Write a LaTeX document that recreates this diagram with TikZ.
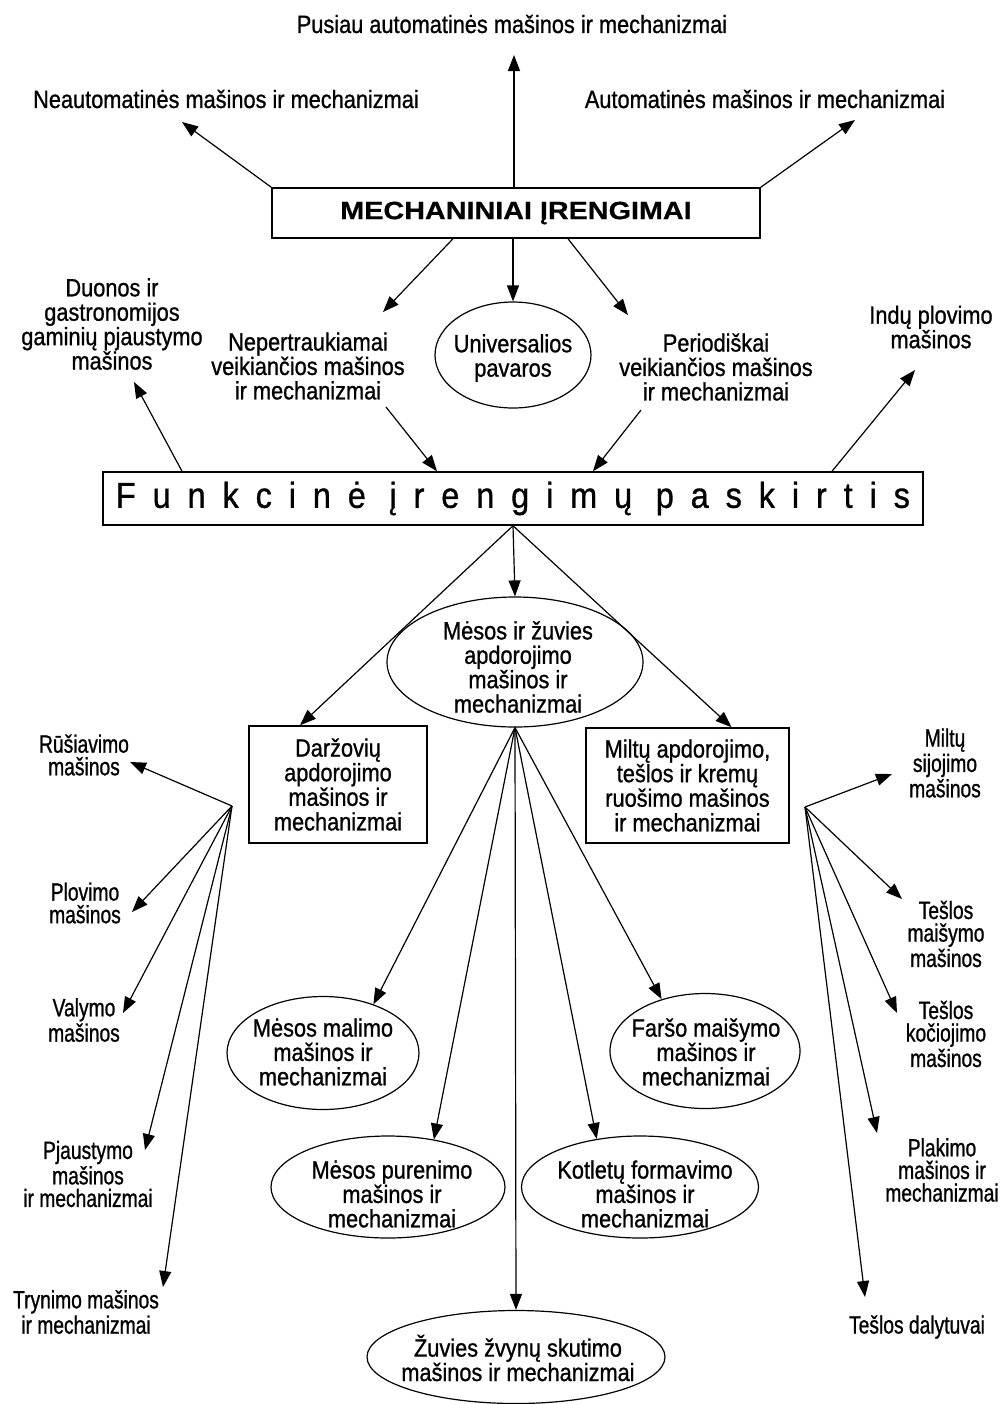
\documentclass[tikz,border=0pt]{standalone}
\usepackage{fontspec}
\setmainfont{Liberation Sans}[FakeStretch=0.87,FakeBold=0.9]
\newfontfamily\sidefont{Liberation Sans}[FakeStretch=0.77,FakeBold=0.9]
\newfontfamily\mechfont{Liberation Sans}[FakeStretch=1.15,FakeBold=0.6]
\newfontfamily\funkfont{Liberation Sans}[FakeStretch=0.9,FakeBold=0.9]
\newcommand\lgap{\hskip 0pt plus 1fil\relax}
\newcommand\wgap{\hskip 0pt plus 1.4fil\relax}
\usetikzlibrary{arrows.meta,calc,shapes.geometric}
\begin{document}
\begin{tikzpicture}[x=0.5pt,y=-0.5pt,
  lbl/.style={font=\fontsize{12.5}{12.2}\selectfont, align=center, inner sep=0pt},
  slbl/.style={font=\sidefont\fontsize{12.5}{11.3}\selectfont, align=center, inner sep=0pt},
  ell/.style={draw, ellipse, line width=0.6pt, inner sep=0pt},
  box/.style={draw, rectangle, line width=0.75pt, inner sep=0pt, align=center, font=\fontsize{12.5}{12.3}\selectfont},
  arr/.style={-{Triangle[length=8pt,width=6pt]}, line width=0.6pt},
]
\useasboundingbox (0,0) rectangle (1000,1404);

% ---- top level ----
\node[box, font=\mechfont\bfseries\fontsize{12.5}{14}\selectfont, minimum width=244pt, minimum height=25pt] (mech) at (516,213) {MECHANINIAI ĮRENGIMAI};
\node[lbl] (pus) at (512,24) {Pusiau automatinės mašinos ir mechanizmai};
\node[lbl] (neaut) at (226,99) {Neautomatinės mašinos ir mechanizmai};
\node[lbl] (aut) at (765,99) {Automatinės mašinos ir mechanizmai};

\node[lbl] (duon) at (112,324) {Duonos ir\\gastronomijos\\gaminių pjaustymo\\mašinos};
\node[lbl] (nep) at (308,366) {Nepertraukiamai\\veikiančios mašinos\\ir mechanizmai};
\node[ell, minimum width=78pt, minimum height=53pt] (univ) at (513,355) {};
\node[lbl] (univT) at (513,358) {Universalios\\pavaros};
\node[lbl] (per) at (716,367) {Periodiškai\\veikiančios mašinos\\ir mechanizmai};
\node[lbl] (ind) at (931,327) {Indų plovimo\\mašinos};

\node[box, font=\funkfont\fontsize{18}{20}\selectfont, minimum width=410pt, minimum height=26.5pt] (funk) at (513,498.5) {\hbox to 397pt{F\lgap u\lgap n\lgap k\lgap c\lgap i\lgap n\lgap ė\wgap į\lgap r\lgap e\lgap n\lgap g\lgap i\lgap m\lgap ų\wgap p\lgap a\lgap s\lgap k\lgap i\lgap r\lgap t\lgap i\lgap s}};

% ---- middle level ----
\node[ell, minimum width=128pt, minimum height=65pt] (mes) at (515,662) {};
\node[lbl] (mesT) at (518,667) {Mėsos ir žuvies\\apdorojimo\\mašinos ir\\mechanizmai};
\node[box, minimum width=89pt, minimum height=58.5pt] (darz) at (338,784.5) {Daržovių\\apdorojimo\\mašinos ir\\mechanizmai};
\node[box, minimum width=101.5pt, minimum height=57.5pt] (milt) at (687.5,785.5) {Miltų apdorojimo,\\tešlos ir kremų\\ruošimo mašinos\\ir mechanizmai};

% ---- meat ellipses ----
\node[ell, minimum width=96pt, minimum height=56.5pt] (mal) at (323,1053) {};
\node[lbl] (malT) at (323,1052) {Mėsos malimo\\mašinos ir\\mechanizmai};
\node[ell, minimum width=95pt, minimum height=57.5pt] (far) at (705,1051) {};
\node[lbl] (farT) at (706,1052) {Faršo maišymo\\mašinos ir\\mechanizmai};
\node[ell, minimum width=117pt, minimum height=51pt] (pur) at (388,1187) {};
\node[lbl] (purT) at (392,1194) {Mėsos purenimo\\mašinos ir\\mechanizmai};
\node[ell, minimum width=118.5pt, minimum height=51pt] (kot) at (640,1187) {};
\node[lbl] (kotT) at (645,1194) {Kotletų formavimo\\mašinos ir\\mechanizmai};
\node[ell, minimum width=149pt, minimum height=46.5pt] (zuv) at (516,1357) {};
\node[lbl] (zuvT) at (518,1358) {Žuvies žvynų skutimo\\mašinos ir mechanizmai};

% ---- side labels ----
\node[slbl] (rus) at (84,755) {Rūšiavimo\\mašinos};
\node[slbl] (plov) at (85,903) {Plovimo\\mašinos};
\node[slbl] (valy) at (84,1020) {Valymo\\mašinos};
\node[slbl] (pjau) at (88,1174) {Pjaustymo\\mašinos\\ir mechanizmai};
\node[slbl] (tryn) at (86,1312) {Trynimo mašinos\\ir mechanizmai};
\node[slbl] (msij) at (945,763) {Miltų\\sijojimo\\mašinos};
\node[slbl] (tmai) at (946,934) {Tešlos\\maišymo\\mašinos};
\node[slbl] (tkoc) at (946,1034) {Tešlos\\kočiojimo\\mašinos};
\node[slbl] (plak) at (942,1170) {Plakimo\\mašinos ir\\mechanizmai};
\node[slbl] (tdal) at (917,1327) {Tešlos dalytuvai};

% ---- connector points ----
\coordinate (tNeaut) at (182,122);
\coordinate (tPus) at (514,55);
\coordinate (tAut) at (855,120);
\coordinate (tNep) at (383,312);
\coordinate (tPer) at (628,315);
\coordinate (sNep) at (386,407);
\coordinate (sPer) at (641,410);
\coordinate (tDuon) at (134,382);
\coordinate (tInd) at (915,370);
\coordinate (fanL) at (232,806);
\coordinate (tRus) at (130,762);
\coordinate (tPlov) at (132,912);
\coordinate (tValy) at (123,1013);
\coordinate (tPjau) at (145,1150);
\coordinate (tTryn) at (163,1287);
\coordinate (fanR) at (805,807);
\coordinate (tMsij) at (892,774);
\coordinate (tTmai) at (902,899);
\coordinate (tTkoc) at (897,1013);
\coordinate (tPlak) at (877,1133);
\coordinate (tTdal) at (865,1297);

% ---- connectors ----
\draw[arr] (mech.north west) -- (tNeaut);
\draw[arr] (mech.north -| tPus) -- (tPus);
\draw[arr] (mech.north east) -- (tAut);
\draw[arr] ($(mech.south)+(-63,0)$) -- (tNep);
\draw[arr] (mech.south -| univ.north) -- (univ.north);
\draw[arr] ($(mech.south)+(52,0)$) -- (tPer);

\draw[arr] (sNep) -- ($(funk.north)+(-76,0)$);
\draw[arr] (sPer) -- ($(funk.north)+(80,0)$);
\draw[arr] ($(funk.north)+(-331,0)$) -- (tDuon);
\draw[arr] ($(funk.north)+(319,0)$) -- (tInd);

\draw[arr] (funk.south) -- ($(darz.north)+(-38,0)$);
\draw[arr] (funk.south) -- (mes.north);
\draw[arr] (funk.south) -- ($(milt.north)+(44,0)$);

\foreach \t in {tRus,tPlov,tValy,tPjau,tTryn} \draw[arr] (fanL) -- (\t);
\foreach \t in {tMsij,tTmai,tTkoc,tPlak,tTdal} \draw[arr] (fanR) -- (\t);

\draw[arr] (mes.south) -- (mal.44);
\draw[arr] (mes.south) -- (pur.46);
\draw[arr] (mes.south) -- (zuv.north);
\draw[arr] (mes.south) -- (kot.132);
\draw[arr] (mes.south) -- (far.130);
\end{tikzpicture}
\end{document}
